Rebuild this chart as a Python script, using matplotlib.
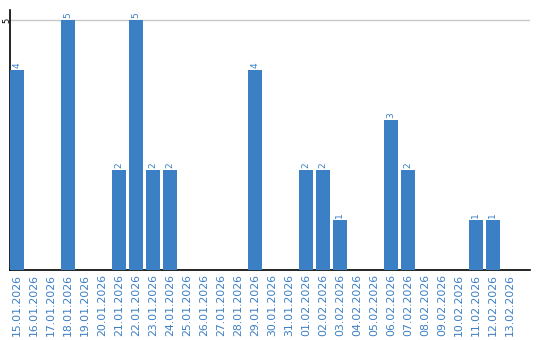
import matplotlib
matplotlib.use('Agg')
import matplotlib.pyplot as plt
import numpy as np

dates = ['15.01.2026', '16.01.2026', '17.01.2026', '18.01.2026', '19.01.2026',
         '20.01.2026', '21.01.2026', '22.01.2026', '23.01.2026', '24.01.2026',
         '25.01.2026', '26.01.2026', '27.01.2026', '28.01.2026', '29.01.2026',
         '30.01.2026', '31.01.2026', '01.02.2026', '02.02.2026', '03.02.2026',
         '04.02.2026', '05.02.2026', '06.02.2026', '07.02.2026', '08.02.2026',
         '09.02.2026', '10.02.2026', '11.02.2026', '12.02.2026', '13.02.2026']
counts = [4, 0, 0, 5, 0, 0, 2, 5, 2, 2, 0, 0, 0, 0, 4,
          0, 0, 2, 2, 1, 0, 0, 3, 2, 0, 0, 0, 1, 1, 0]

blue = '#3b7fc4'

fig = plt.figure(figsize=(5.4, 3.4), dpi=100)
ax = fig.add_axes([10 / 540, 70 / 340, 520 / 540, 260 / 340])

x = np.arange(len(dates))
bars = ax.bar(x, counts, width=0.82, color=blue, zorder=3)

for xi, v in zip(x, counts):
    if v > 0:
        ax.text(xi, v + 0.04, str(v), rotation=90, ha='center', va='bottom',
                color=blue, fontsize=6.5, zorder=4)

ax.set_xlim(-0.41, 30.18)
ax.set_ylim(0, 5.2)
ax.set_yticks([5])
ax.set_yticklabels(['5'], rotation=90, va='center', ha='center', fontsize=6)
ax.tick_params(axis='y', length=0, pad=2.5)
ax.grid(axis='y', color='#c8c8c8', linewidth=1, zorder=0)

ax.set_xticks(x)
ax.set_xticklabels(dates, rotation=90, color=blue, fontsize=7.8)
ax.tick_params(axis='x', length=0, pad=3)

for side in ['top', 'right']:
    ax.spines[side].set_visible(False)
ax.spines['left'].set_color('black')
ax.spines['bottom'].set_color('black')
ax.spines['left'].set_linewidth(1.2)
ax.spines['bottom'].set_linewidth(1.2)

fig.savefig('out.png', dpi=100)
